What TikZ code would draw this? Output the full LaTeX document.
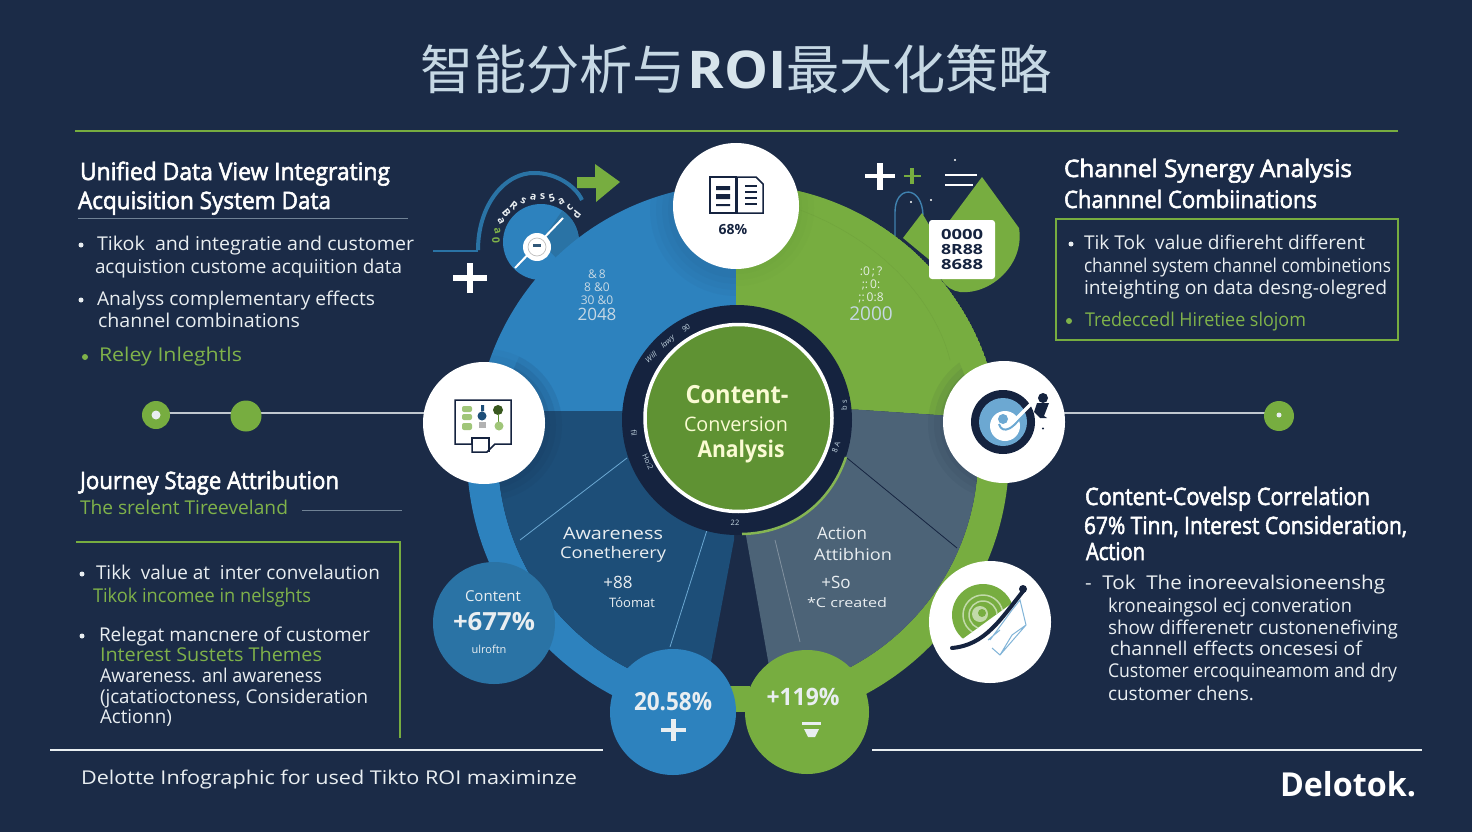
\documentclass[tikz,border=0pt]{standalone}
\usepackage{fontspec}
\usepackage{graphicx}
\setmainfont{Open Sans}
\newfontfamily\cjk{Noto Sans CJK SC}
\newfontfamily\hdf[FakeBold=2.5]{Open Sans}
\definecolor{bg}{HTML}{1B2B47}
\definecolor{navy}{HTML}{15233F}
\definecolor{blueA}{HTML}{2D82BE}
\definecolor{blueB}{HTML}{1D4E78}
\definecolor{blueC}{HTML}{2A73A5}
\definecolor{greenA}{HTML}{77AD40}
\definecolor{greenB}{HTML}{5F9233}
\definecolor{slate}{HTML}{4C6377}
\definecolor{ink}{HTML}{E9EEF1}
\definecolor{gtx}{HTML}{7FB24A}
\definecolor{ttl}{HTML}{C6D8E4}
\tikzset{
  txt/.style={inner sep=0pt,outer sep=0pt,anchor=base west,font=\fontsize{19}{19}\selectfont},
  ctr/.style={inner sep=0pt,outer sep=0pt,anchor=center},
  bigc/.style={circle,minimum size=122pt,inner sep=0pt,fill=white},
  bul/.style={circle,inner sep=0pt,minimum size=5pt,fill=ink},
  gbul/.style={circle,inner sep=0pt,minimum size=6pt,fill=gtx},
  rule/.style={line width=1.4pt},
  ic/.style={draw=navy,line width=1.5pt,fill=none},
}
\newcommand{\tl}[6]{\node[txt,text=#5] (#1) at (#2,#3+6) {\resizebox{#4pt}{\height}{#6}};}
\newcommand{\hl}[5]{\node[txt,text=white,font=\fontsize{24}{24}\selectfont\hdf] (#1) at (#2,#3+8) {\resizebox{#4pt}{\height}{#5}};}
\newcommand{\plusmark}[4]{\fill[#4] (#1-#3,#2-#3*0.16) rectangle (#1+#3,#2+#3*0.16); \fill[#4] (#1-#3*0.2,#2-#3*0.9) rectangle (#1+#3*0.2,#2+#3*0.9);}
\begin{document}
\begin{tikzpicture}[x=1pt,y=-1pt]
\useasboundingbox (0,0) rectangle (1472,832);
\fill[bg] (0,0) rectangle (1472,832);

% title
\node[ctr,text=ttl,font=\fontsize{53}{53}\selectfont\cjk] (tA) at (553,69) {\resizebox{266pt}{\height}{智能分析与}};
\node[ctr,text=ttl!70!white,font=\fontsize{52}{52}\selectfont\bfseries] (tB) at (737,70) {\resizebox{99pt}{\height}{ROI}};
\node[ctr,text=ttl,font=\fontsize{53}{53}\selectfont\cjk] (tC) at (919,69) {\resizebox{266pt}{\height}{最大化策略}};
\coordinate (r1a) at (75,131); \coordinate (r1b) at (1398,131);
\draw[greenA,line width=1.6pt] (r1a) -- (r1b);

% top-left gauge
\fill[blueA] (541,242) circle (38);
\begin{scope}
\clip (541,242) circle (38);
\fill[blueC] (541,242) -- (566,205) -- (590,240) -- (560,262) -- cycle;
\end{scope}
\draw[white,line width=2pt] (515,268) -- (563,218);
\fill[white] (537,247) circle (14);
\draw[gray!50,line width=.7pt] (537,247) circle (9);
\fill[blueB!80!gray] (533,244) rectangle (541,247);
\draw[blueC,line width=4pt] (478,250) .. controls (478,205) and (505,172) .. (535,173) .. controls (555,173) and (575,185) .. (582,200);
\coordinate (g1) at (433,251); \coordinate (g2) at (478,251);
\draw[blueC,line width=1.3pt] (g1) -- (g2);
\fill[greenA] (577,177) -- (595,177) -- (595,164) -- (620,182) -- (596,202) -- (596,188) -- (577,188) -- cycle;
\plusmark{470}{278}{17}{white}
\foreach \a/\c/\k in {178/0/gtx,166/a/gtx,152/a/ink,140/B/ink,127/R/ink,113/s/ink,100/a/ink,88/s/ink,76/5/ink,63/a/ink,50/c/ink,38/d/ink}
  \node[ctr,text=\k,rotate=90-\a,font=\fontsize{10.5}{10.5}\selectfont\bfseries] at ({541+45*cos(\a)},{242-45*sin(\a)}) {\c};

% top-right ornaments
\draw[blueC!90!white,line width=1.4pt] (895,236) -- (895,212) .. controls (895,185) and (922,185) .. (923,215);
\fill[greenA] (922,213) -- (903,238) -- (932,262) -- (935,235) -- cycle;
\fill[greenA] (982,177) -- (1019,228) .. controls (1025,265) and (990,295) .. (960,292) .. controls (945,290) and (935,275) .. (935,255) -- (950,220) -- cycle;
\plusmark{880}{176}{15}{white}
\plusmark{912}{176}{8.5}{greenA}
\coordinate (l1a) at (945,175); \coordinate (l1b) at (977,175);
\coordinate (l2a) at (945,185); \coordinate (l2b) at (973,185);
\draw[white,line width=1.5pt] (l1a) -- (l1b);
\draw[white,line width=1.5pt] (l2a) -- (l2b);
\fill[white] (955,160) circle (1.2) (911,202) circle (1.2) (931,200) circle (1.2);

% upper disc
\begin{scope}
\clip (440,140) rectangle (736,411);
\clip (738,447) circle (263);
\fill[blueA] (738,447) circle (263);
\foreach \rr in {68,74,80,86} \fill[blueB,opacity=.06] (736,210) circle (\rr);
\foreach \rr in {64,70,76} \fill[blueB,opacity=.06] (486,425) circle (\rr);
\end{scope}
\begin{scope}
\clip (736,140) -- (1040,140) -- (1040,415.5) -- (945,415.5) -- (855,409.5) -- (736,409.5) -- cycle;
\clip (738,447) circle (263);
\fill[greenA] (738,447) circle (263);
\foreach \rr in {66,72,78} \fill[greenB,opacity=.07] (736,208) circle (\rr);
\end{scope}
\draw[greenA!90!black,line width=0.5pt,opacity=.5] (800,210) .. controls (880,240) and (935,300) .. (950,360);

% lower rings
\begin{scope}
\clip (440,411) rectangle (690,760);
\fill[blueA,even odd rule] (738,455) circle (271) (738,455) circle (240);
\end{scope}
\begin{scope}
\clip (790,760) rectangle (1040,412);
\fill[greenA,even odd rule] (738,455) circle (271) (738,455) circle (240);
\end{scope}
\begin{scope}
\clip (738,455) circle (240);
\fill[blueB] (440,411) -- (738,411) -- (734,540) -- (700,720) -- (440,720) -- cycle;
\fill[slate] (738,410) -- (855,409.5) -- (945,415.5) -- (1030,415.5) -- (1030,720) -- (775,700) -- (745,530) -- cycle;
\foreach \rr in {64,70,76} \fill[navy,opacity=.06] (486,425) circle (\rr);
\foreach \rr in {64,70,76} \fill[navy,opacity=.06] (1004,424) circle (\rr);
\end{scope}
\fill[greenA] (730,686) rectangle (750,712);

% sector hairlines
\coordinate (h1a) at (627,458); \coordinate (h1b) at (520,540);
\coordinate (h2a) at (707,530); \coordinate (h2b) at (670,647);
\coordinate (h3a) at (847,458); \coordinate (h3b) at (957,548);
\coordinate (h4a) at (775,540); \coordinate (h4b) at (800,642);
\draw[blueA!70!white,line width=.8pt] (h1a) -- (h1b);
\draw[blueA!70!white,line width=.8pt] (h2a) -- (h2b);
\draw[navy,line width=.8pt] (h3a) -- (h3b);
\draw[slate!70!white,line width=.8pt] (h4a) -- (h4b);

% digit clusters
\node[ctr,align=center,text=ttl,font=\fontsize{12}{13}\selectfont] (dL) at (597,295) {\&\,8\\ 8 \&0\\ 30 \&0\\[3pt] \fontsize{17}{18}\selectfont 2048};
\node[ctr,align=center,text=ttl!60!greenA!30!white,font=\fontsize{12}{13}\selectfont] (dR) at (871,294) {:0\,;\,?\\ ;:\,0:\\ ;:\,0:8\\[3pt] \fontsize{19}{20}\selectfont\color{ttl} 2000};

% timelines
\coordinate (p1) at (156,413); \coordinate (p2) at (484,413);
\coordinate (p3) at (1004,413); \coordinate (p4) at (1279,413);
\draw[ink!80!bg,line width=2pt] (p1) -- (p2);
\draw[ink!80!bg,line width=2pt] (p3) -- (p4);

% centre hub
\fill[navy] (737,420) circle (115);
\draw[greenA!90!white,line width=2.5pt] (846,457) .. controls (830,505) and (790,533) .. (742,534);
\node[circle,minimum size=187pt,inner sep=0pt,fill=greenB,draw=white,line width=3.5pt] (hub) at (738.5,418) {};
\node[ctr,text=ink!60!yellow!40!white,font=\fontsize{25}{25}\selectfont\bfseries] (c1) at (737,395) {\resizebox{103pt}{\height}{Content-}};
\node[ctr,text=ink!60!yellow!40!white,font=\fontsize{20}{20}\selectfont] (c2) at (736,424) {\resizebox{104pt}{\height}{Conversion}};
\node[ctr,text=ink!60!yellow!40!white,font=\fontsize{23}{23}\selectfont\bfseries] (c3) at (741,452) {\resizebox{87pt}{\height}{Analysis}};
\foreach \x/\y/\r/\t in {651/357/40/{\it Will},668/342/40/{\it lawy},686/328/40/{\it 90},634/433/-80/{fil},648/462/-65/{Ho:2},844/405/90/{b s},836/447/70/{8 A},735/523/0/{22}}
  \node[ctr,text=ttl,rotate=\r,font=\fontsize{7.5}{7.5}\selectfont] at (\x,\y) {\t};

% white circles
\node[circle,minimum size=126pt,inner sep=0pt,fill=white] (top) at (736,206) {};
\node[bigc] (lft) at (484,423) {};
\node[bigc] (rgt) at (1004,422) {};
\node[bigc] (lrt) at (990,622) {};
\node[circle,minimum size=122pt,inner sep=0pt,fill=blueC] (llf) at (494,623) {};
\node[circle,minimum size=126pt,inner sep=0pt,fill=blueA] (b1) at (673,712) {};
\node[circle,minimum size=124pt,inner sep=0pt,fill=greenA] (b2) at (807,712) {};

% white square with digits
\fill[white,rounded corners=3pt] (929,220) rectangle (995,279);
\node[ctr,align=center,text=navy,font=\fontsize{14}{15}\selectfont\bfseries] (sq) at (962,249) {\resizebox{42pt}{\height}{0000}\\\resizebox{42pt}{\height}{8R88}\\\resizebox{42pt}{\height}{8688}};

% top icon
\draw[ic] (710,177) rectangle (736,213);
\draw[ic] (737,213) -- (737,177) -- (756,177) -- (763,184) -- (763,213) -- cycle;
\fill[navy] (716,186) rectangle (730,190) (716,194) rectangle (730,199) (716,204) rectangle (730,206);
\foreach \yy in {186,192,198,204} \draw[navy,line width=1.4pt] (745,\yy) -- (757,\yy);
\node[ctr,text=navy,font=\fontsize{14}{14}\selectfont\bfseries] (tp) at (733,229) {68\%};

% chat icon
\draw[navy,line width=1.5pt] (472,444) -- (455,444) -- (455,400) -- (511,400) -- (511,444) -- (495,444) -- (487,452) -- (472,452) -- cycle;
\draw[navy,line width=1.5pt] (472,444) -- (472,438) -- (489,438) -- (489,452);
\fill[greenA!70!white,rounded corners=2pt] (462,406) rectangle (472,412) (462,414) rectangle (472,420) (462,423) rectangle (472,430);
\fill[blueB] (482,416) circle (4.5) (481,405) rectangle (484,411);
\fill[gray!60] (479,422) rectangle (486,428);
\fill[greenB!60!black] (498,410) circle (5);
\draw[greenB,line width=1pt] (498,414) -- (498,422);
\fill[greenA!70!white] (499,426) circle (4.5);

% target icon
\fill[navy] (1003,422) circle (32);
\fill[blueA!70!white] (1003,422) circle (24);
\fill[white] (1005,426) circle (15);
\fill[blueA!70!white] (1003,419) circle (5);
\draw[blueA!70!white,line width=2pt] (999,424) .. controls (1002,435) and (1015,430) .. (1026,408);
\draw[white,line width=3.5pt] (1012,423) -- (1032,403);
\fill[navy] (1043,398) circle (5);
\fill[navy] (1037,403) -- (1049,403) -- (1044,416) -- (1047,418) -- (1040,418) -- (1034,412) -- cycle;
\fill[navy] (1043,428.5) circle (1.2);

% swirl icon
\begin{scope}
\clip (950,648) -- (1030,590) -- (1000,575) -- (950,575) -- cycle;
\fill[greenA] (983,615) circle (31);
\draw[greenA!45!white,line width=1.5pt] (983,615) circle (20);
\draw[greenA!45!white,line width=1.5pt] (983,615) circle (14);
\fill[greenA!45!white] (980,614) circle (8);
\fill[greenA] (982,613) circle (4);
\end{scope}
\draw[blueA!60!white,line width=1pt] (992,648) -- (1000,655) -- (1026,625) -- (1020,600) -- (1012,610) -- (990,640) (1000,655) -- (1012,635) -- (1026,625) (988,640) -- (1000,630);
\draw[navy,line width=4pt,line cap=round] (952,648) .. controls (985,645) and (1000,620) .. (1024,590);
\fill[navy] (1023,589) circle (4);

% circle labels
\node[ctr,text=ink,font=\fontsize{15}{15}\selectfont] (n1) at (493,596) {Content};
\node[ctr,text=ink,font=\fontsize{25}{25}\selectfont\bfseries] (n2) at (494,622) {\resizebox{82pt}{\height}{+677\%}};
\node[ctr,text=ink,font=\fontsize{11}{11}\selectfont] (n3) at (489,649) {ulroftn};
\node[ctr,text=ink,font=\fontsize{25}{25}\selectfont\bfseries] (n4) at (673,702) {\resizebox{78pt}{\height}{20.58\%}};
\plusmark{673}{730}{12.5}{ink}
\node[ctr,text=ink,font=\fontsize{24}{24}\selectfont\bfseries] (n5) at (803,697) {\resizebox{73pt}{\height}{+119\%}};
\fill[ink] (802,722) rectangle (821,725);
\fill[ink] (804,729) -- (819,729) -- (815,737) -- (808,737) -- cycle;

% sector labels
\node[ctr,text=ink,font=\fontsize{17}{17}\selectfont] (s1) at (613,533) {\resizebox{100pt}{\height}{Awareness}};
\node[ctr,text=ink,font=\fontsize{16}{16}\selectfont] (s2) at (613,554) {\resizebox{106pt}{\height}{Conetherery}};
\node[ctr,text=ink,font=\fontsize{17}{17}\selectfont] (s3) at (618,582) {+88};
\node[ctr,text=ink,font=\fontsize{13}{13}\selectfont] (s4) at (632,603) {T\'oomat};
\node[ctr,text=ink,font=\fontsize{17}{17}\selectfont] (s5) at (842,533) {Action};
\node[ctr,text=ink,font=\fontsize{16}{16}\selectfont] (s6) at (853,554) {\resizebox{78pt}{\height}{Attibhion}};
\node[ctr,text=ink,font=\fontsize{17}{17}\selectfont] (s7) at (836,582) {+So};
\node[ctr,text=ink,font=\fontsize{13}{13}\selectfont] (s8) at (847,603) {\resizebox{80pt}{\height}{*C created}};

% timeline markers
\node[circle,minimum size=28pt,inner sep=0pt,fill=greenA] (m1) at (156,415) {};
\node[circle,minimum size=31pt,inner sep=0pt,fill=greenA] (m2) at (246,416) {};
\node[circle,minimum size=30pt,inner sep=0pt,fill=greenA] (m3) at (1279,416) {};
\fill[ink] (156,415) circle (4.5);
\fill[ink] (1279,415) circle (2.5);

% left column
\hl{a1}{80}{172}{310}{Unified Data View Integrating}
\hl{a2}{78}{201}{253}{Acquisition System Data}
\coordinate (ar1) at (78,218); \coordinate (ar2) at (408,218);
\draw[ttl!50!bg,line width=1pt] (ar1) -- (ar2);
\node[bul] (ab1) at (81,245) {};
\tl{a3}{97}{244}{317}{ink}{Tikok\ \ and integratie and customer}
\tl{a4}{95}{267}{307}{ink}{acquistion custome acquiition data}
\node[bul] (ab2) at (81,300) {};
\tl{a5}{97}{299}{278}{ink}{Analyss complementary effects}
\tl{a6}{98}{321}{202}{ink}{channel combinations}
\node[gbul] (ab3) at (85,357) {};
\tl{a7}{99}{355}{143}{gtx}{Reley Inleghtls}

\hl{b1t}{80}{481}{259}{Journey Stage Attribution}
\tl{b2}{80}{508}{208}{gtx}{The srelent Tireeveland}
\coordinate (br1) at (302,510); \coordinate (br2) at (402,510);
\draw[ttl!50!bg,line width=1pt] (br1) -- (br2);
\coordinate (bx1) at (76,542); \coordinate (bx2) at (400,542); \coordinate (bx3) at (400,738);
\draw[greenA,line width=1.2pt] (bx1) -- (bx2) -- (bx3);
\node[bul] (bb1) at (82,574) {};
\tl{b3}{96}{573}{284}{ink}{Tikk\ \ value at\ \ inter convelaution}
\tl{b4}{93}{596}{218}{gtx}{Tikok incomee in nelsghts}
\node[bul] (bb2) at (82,636) {};
\tl{b5}{99}{635}{271}{ink}{Relegat mancnere of customer}
\tl{b6}{100}{655}{222}{gtx}{Interest Sustets Themes}
\tl{b7}{100}{676}{222}{ink}{Awareness. anl awareness}
\tl{b8}{100}{697}{268}{ink}{(jcatatioctoness, Consideration}
\tl{b9}{100}{717}{72}{ink}{Actionn)}

% right column
\hl{c1t}{1064}{169}{288}{Channel Synergy Analysis}
\hl{c2t}{1064}{200}{253}{Channnel Combiinations}
\coordinate (cb1) at (1056,219); \coordinate (cb2) at (1398,340);
\draw[greenA,line width=1.2pt] (cb1) rectangle (cb2);
\node[bul] (cb3) at (1071,244) {};
\tl{c3}{1084}{243}{281}{ink}{Tik Tok\ \ value difiereht different}
\tl{c4}{1084}{266}{307}{ink}{channel system channel combinetions}
\tl{c5}{1084}{288}{303}{ink}{inteighting on data desng-olegred}
\node[gbul] (cb4) at (1069,321) {};
\tl{c6}{1085}{320}{221}{gtx}{Tredeccedl Hiretiee slojom}

\hl{d1t}{1085}{497}{285}{Content-Covelsp Correlation}
\hl{d2t}{1084}{526}{323}{67\% Tinn, Interest Consideration,}
\hl{d3t}{1086}{552}{59}{Action}
\tl{d4}{1085}{583}{300}{ink}{-\ \ Tok\ \ The inoreevalsioneenshg}
\tl{d5}{1108}{606}{244}{ink}{kroneaingsol ecj converation}
\tl{d6}{1108}{628}{290}{ink}{show differenetr custonenefiving}
\tl{d7}{1110}{649}{252}{ink}{channell effects oncesesi of}
\tl{d8}{1108}{671}{289}{ink}{Customer ercoquineamom and dry}
\tl{d9}{1108}{694}{146}{ink}{customer chens.}

% footer
\coordinate (f1a) at (50,750); \coordinate (f1b) at (603,750);
\coordinate (f2a) at (872,750); \coordinate (f2b) at (1422,750);
\draw[ink,rule] (f1a) -- (f1b);
\draw[ink,rule] (f2a) -- (f2b);
\tl{f1}{81}{778}{496}{ink}{Delotte Infographic for used Tikto ROI maximinze}
\node[txt,text=white,font=\fontsize{33}{33}\selectfont\bfseries] (f2) at (1280,796) {\resizebox{136pt}{\height}{Delotok.}};
\end{tikzpicture}
\end{document}
